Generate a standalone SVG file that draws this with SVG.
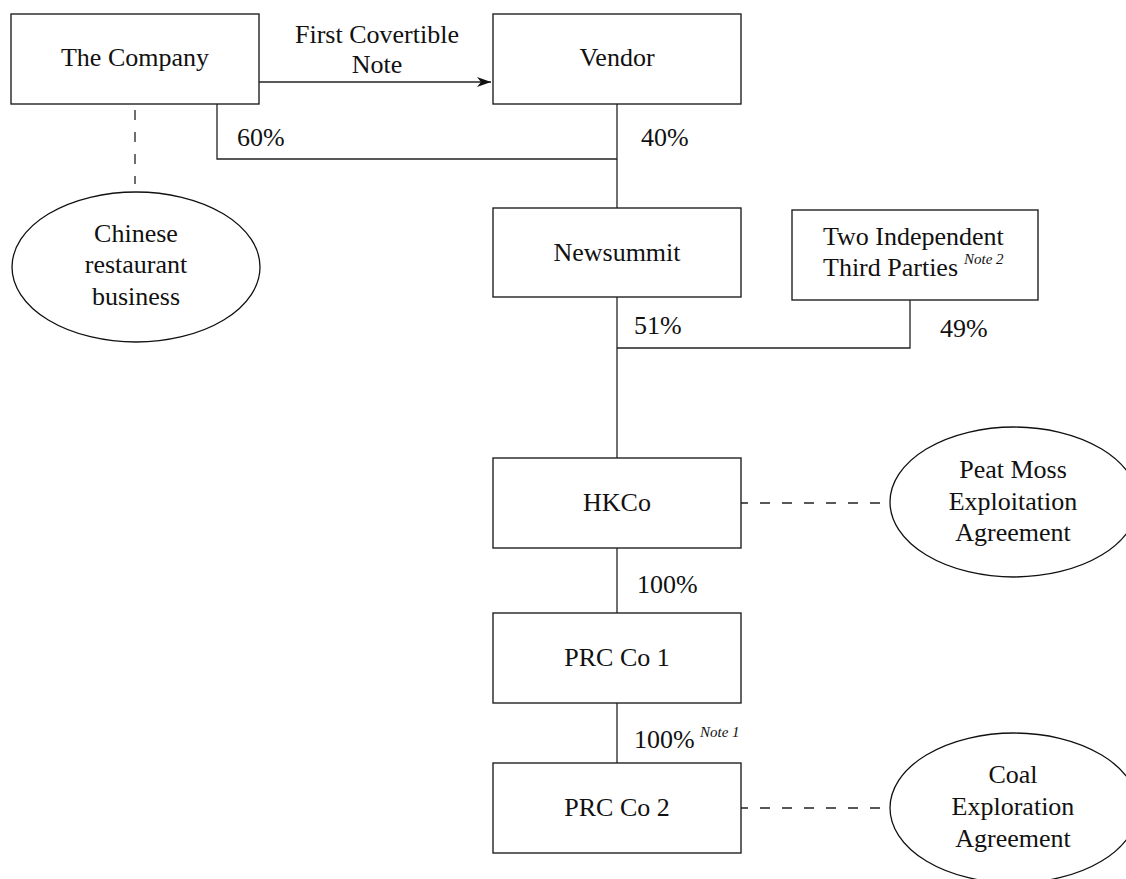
<svg xmlns="http://www.w3.org/2000/svg" width="1126" height="879" viewBox="0 0 1126 879">
<style>
  text { font-family: "Liberation Serif", "Times New Roman", serif; font-size: 26px; fill: #111; }
  .c { text-anchor: middle; }
  .note { font-size: 15px; font-style: italic; }
  .box { fill: #fff; stroke: #222; stroke-width: 1.4; }
  .ell { fill: #fff; stroke: #111; stroke-width: 1.3; }
  .ln { fill: none; stroke: #222; stroke-width: 1.3; }
  .dash { fill: none; stroke: #222; stroke-width: 1.3; stroke-dasharray: 10 12; }
</style>
<defs>
  <marker id="arr" viewBox="0 0 14 10" refX="14" refY="5" markerWidth="14" markerHeight="10" markerUnits="userSpaceOnUse" orient="auto">
    <path d="M0,0 L14,5 L0,10 L4,5 Z" fill="#111"/>
  </marker>
</defs>
<rect width="1126" height="879" fill="#fff"/>
<g id="connectors">
  <path class="ln" d="M259,82 H491" marker-end="url(#arr)"/>
  <path class="dash" d="M135,104 V184" stroke-dashoffset="-6"/>
  <path class="ln" d="M217,104 V159 H617"/>
  <path class="ln" d="M617,104 V208"/>
  <path class="ln" d="M617,297 V458"/>
  <path class="ln" d="M910,300 V348 H617"/>
  <path class="ln" d="M617,548 V613"/>
  <path class="ln" d="M617,703 V763"/>
  <path class="dash" d="M741,503 H890" stroke-dashoffset="3"/>
  <path class="dash" d="M741,808 H890" stroke-dashoffset="3"/>
  <text class="c" x="377" y="43">First Covertible</text>
  <text class="c" x="377" y="73">Note</text>
  <text x="237" y="146">60%</text>
  <text x="641" y="146">40%</text>
  <text x="634" y="334">51%</text>
  <text x="940" y="337">49%</text>
  <text x="637" y="593">100%</text>
  <text x="634" y="748">100%</text>
  <text class="note" x="700" y="737">Note 1</text>
</g>
<g id="company">
  <rect class="box" x="11" y="14" width="248" height="90"/>
  <text class="c" x="135" y="66">The Company</text>
</g>
<g id="vendor">
  <rect class="box" x="493" y="14" width="248" height="90"/>
  <text class="c" x="617" y="66">Vendor</text>
</g>
<g id="chinese">
  <ellipse class="ell" cx="136" cy="267" rx="124" ry="75"/>
  <text class="c" x="136" y="242">Chinese</text>
  <text class="c" x="136" y="273">restaurant</text>
  <text class="c" x="136" y="305">business</text>
</g>
<g id="newsummit">
  <rect class="box" x="493" y="208" width="248" height="89"/>
  <text class="c" x="617" y="261">Newsummit</text>
</g>
<g id="third-parties">
  <rect class="box" x="792" y="210" width="246" height="90"/>
  <text x="823" y="245">Two Independent</text>
  <text x="823" y="276">Third Parties</text>
  <text class="note" x="964" y="264">Note 2</text>
</g>
<g id="hkco">
  <rect class="box" x="493" y="458" width="248" height="90"/>
  <text class="c" x="617" y="511">HKCo</text>
</g>
<g id="peat-moss">
  <ellipse class="ell" cx="1014" cy="502" rx="124" ry="75"/>
  <text class="c" x="1013" y="478">Peat Moss</text>
  <text class="c" x="1013" y="510">Exploitation</text>
  <text class="c" x="1013" y="541">Agreement</text>
</g>
<g id="prc1">
  <rect class="box" x="493" y="613" width="248" height="90"/>
  <text class="c" x="617" y="666">PRC Co 1</text>
</g>
<g id="prc2">
  <rect class="box" x="493" y="763" width="248" height="90"/>
  <text class="c" x="617" y="816">PRC Co 2</text>
</g>
<g id="coal">
  <ellipse class="ell" cx="1014" cy="808" rx="124" ry="75"/>
  <text class="c" x="1013" y="783">Coal</text>
  <text class="c" x="1013" y="815">Exploration</text>
  <text class="c" x="1013" y="847">Agreement</text>
</g>
</svg>
